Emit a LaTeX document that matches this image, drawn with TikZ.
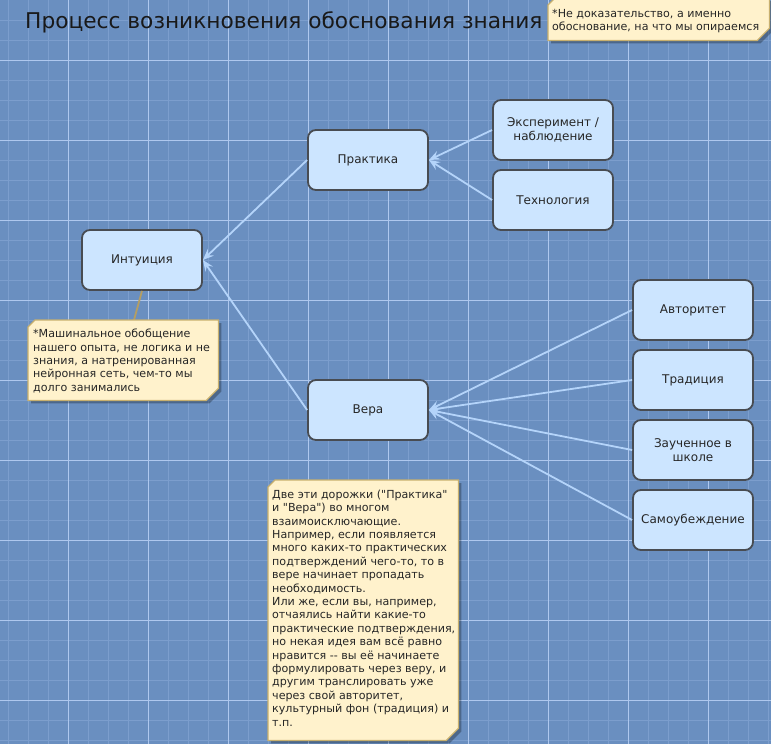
\documentclass[tikz,border=0pt]{standalone}
\usepackage{fontspec}
\setmainfont{DejaVu Sans}
\newfontfamily\dvplain{DejaVu Sans}
\usetikzlibrary{arrows.meta}
\definecolor{bgblue}{RGB}{106,143,192}
\definecolor{minorc}{RGB}{124,158,205}
\definecolor{majorc}{RGB}{175,200,238}
\definecolor{boxfill}{RGB}{204,229,255}
\definecolor{boxline}{RGB}{72,76,82}
\definecolor{arrc}{RGB}{180,212,250}
\definecolor{notefill}{RGB}{255,242,204}
\definecolor{noteline}{RGB}{200,176,110}
\tikzset{
  box/.style={draw=boxline, line width=1.8pt, fill=boxfill, rounded corners=8pt,
    minimum width=120pt, minimum height=60pt, align=center, font=\fontsize{12}{14}\selectfont, text=black!85},
  arr/.style={draw=arrc, line width=1.8pt, -{Stealth[length=11pt,width=9pt,inset=4pt]}},
  notetext/.style={inner sep=0pt, align=left, font=\dvplain\fontsize{11.1}{13.4}\selectfont, text=black!85},
  notebox/.style={draw=noteline, line width=1.2pt, fill=notefill},
  noteshadow/.style={fill=black, opacity=0.28},
  minorl/.style={draw=minorc, line width=0.8pt},
  majorl/.style={draw=majorc, line width=1pt},
  conn/.style={draw=noteline!90!black, line width=1.8pt}
}
\begin{document}
\begin{tikzpicture}[x=1pt,y=-1pt]
\useasboundingbox (0,0) rectangle (771,744);
\fill[bgblue] (0,0) rectangle (771,744);
\foreach \x in {8,28,...,768} \draw[minorl] (\x,0) -- (\x,744);
\foreach \y in {20,40,...,740} \draw[minorl] (0,\y) -- (771,\y);
\foreach \x in {68,148,...,708} \draw[majorl] (\x,0) -- (\x,744);
\foreach \y in {60,140,...,700} \draw[majorl] (0,\y) -- (771,\y);

% title
\node[anchor=west, inner sep=0pt, font=\fontsize{21.7}{24}\selectfont, text=black!90] (title) at (25,22) {Процесс возникновения обоснования знания};

% boxes
\node[box] (prak) at (368,160) {Практика};
\node[box] (exp) at (553,130) {Эксперимент /\\наблюдение};
\node[box] (tech) at (553,200) {Технология};
\node[box] (int) at (142,260) {Интуиция};
\node[box] (vera) at (368,410) {Вера};
\node[box] (avt) at (693,310) {Авторитет};
\node[box] (trad) at (693,380) {Традиция};
\node[box] (zauch) at (693,450) {Зауч\-енное в\\школе};
\node[box] (samo) at (693,520) {Самоубеждение};

% arrows
\draw[arr] (exp.west) -- (prak.east);
\draw[arr] (tech.west) -- (prak.east);
\draw[arr] (prak.west) -- (int.east);
\draw[arr] (vera.west) -- (int.east);
\draw[arr] (avt.west) -- (vera.east);
\draw[arr] (trad.west) -- (vera.east);
\draw[arr] (zauch.west) -- (vera.east);
\draw[arr] (samo.west) -- (vera.east);

% note 1 (top right)
\node[minimum width=221pt, minimum height=42pt, inner sep=0pt, anchor=north west] (n1) at (548,-2) {};
\fill[noteshadow] ([xshift=3pt,yshift=-8pt]n1.north west) -- ([xshift=3pt,yshift=-3pt]n1.north east) -- ([xshift=3pt,yshift=9pt]n1.south east) -- ([xshift=-9pt,yshift=-3pt]n1.south east) -- ([xshift=3pt,yshift=-3pt]n1.south west) -- cycle;
\draw[notebox] ([xshift=7pt]n1.north west) -- (n1.north east) -- ([yshift=12pt]n1.south east) -- ([xshift=-12pt]n1.south east) -- (n1.south west) -- ([yshift=-7pt]n1.north west) -- cycle;
\node[notetext, anchor=west] (n1t) at (552,21) {*Не доказательство, а именно\\обоснование, на что мы опираемся};

% note 2 (intuition)
\node[minimum width=190pt, minimum height=80pt, inner sep=0pt, anchor=north west] (n2) at (28,320) {};
\draw[conn] (int.south) -- ([xshift=106pt]n2.north west);
\fill[noteshadow] ([xshift=3pt,yshift=-8pt]n2.north west) -- ([xshift=3pt,yshift=-3pt]n2.north east) -- ([xshift=3pt,yshift=9pt]n2.south east) -- ([xshift=-9pt,yshift=-3pt]n2.south east) -- ([xshift=3pt,yshift=-3pt]n2.south west) -- cycle;
\draw[notebox] ([xshift=7pt]n2.north west) -- (n2.north east) -- ([yshift=12pt]n2.south east) -- ([xshift=-12pt]n2.south east) -- (n2.south west) -- ([yshift=-7pt]n2.north west) -- cycle;
\node[notetext, anchor=west] (n2t) at (33,361) {*Машинальное обобщение\\нашего опыта, не логика и не\\знания, а натренированная\\нейронная сеть, чем-то мы\\долго занимались};

% note 3 (bottom)
\node[minimum width=190pt, minimum height=260pt, inner sep=0pt, anchor=north west] (n3) at (268,480) {};
\fill[noteshadow] ([xshift=3pt,yshift=-8pt]n3.north west) -- ([xshift=3pt,yshift=-3pt]n3.north east) -- ([xshift=3pt,yshift=9pt]n3.south east) -- ([xshift=-9pt,yshift=-3pt]n3.south east) -- ([xshift=3pt,yshift=-3pt]n3.south west) -- cycle;
\draw[notebox] ([xshift=7pt]n3.north west) -- (n3.north east) -- ([yshift=12pt]n3.south east) -- ([xshift=-12pt]n3.south east) -- (n3.south west) -- ([yshift=-7pt]n3.north west) -- cycle;
\node[notetext, anchor=west] (n3t) at (272,608) {Две эти дорожки ("Практика"\\и "Вера") во многом\\взаимоисключающие.\\Например, если появляется\\много каких-то практических\\подтверждений чего-то, то в\\вере начинает пропадать\\необходимость.\\Или же, если вы, например,\\отчаялись найти какие-то\\практические подтверждения,\\но некая идея вам всё равно\\нравится -\kern0pt- вы её начинаете\\формулировать через веру, и\\другим транслировать уже\\через свой авторитет,\\культурный фон (традиция) и\\т.п.};
\end{tikzpicture}
\end{document}
